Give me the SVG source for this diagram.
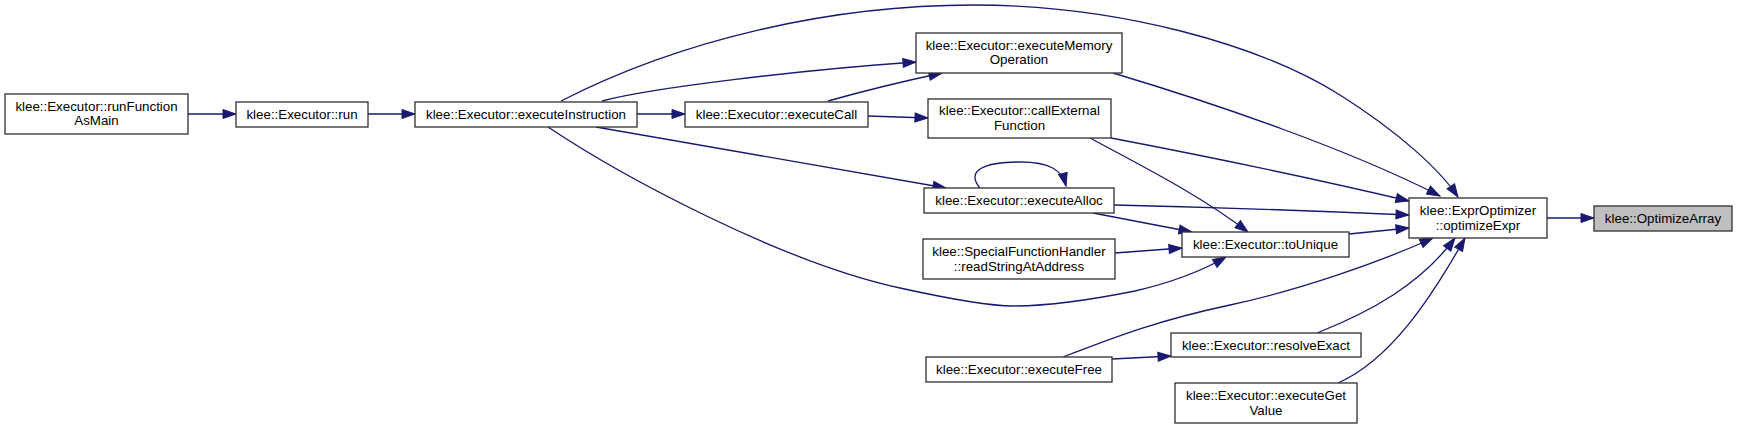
<svg xmlns="http://www.w3.org/2000/svg" width="1737" height="430" viewBox="0 0 1737 430">
<style>
.n rect{fill:#fff;stroke:#333;stroke-width:1.33}
.n.g rect{fill:#bfbfbf}
.n text{font-family:"Liberation Sans",Arial,sans-serif;font-size:13.33px;fill:#000;text-anchor:middle}
.e path{fill:none;stroke:#191970;stroke-width:1.33;marker-end:url(#ah)}
</style>
<defs>
<marker id="ah" markerWidth="14" markerHeight="10" refX="13" refY="5" orient="auto" markerUnits="userSpaceOnUse" overflow="visible">
<path d="M0,0.5 L13,5 L0,9.5 z" fill="#191970" stroke="#191970" stroke-width="1"/>
</marker>
</defs>
<rect width="1737" height="430" fill="#fff"/>
<g id="edges" class="e">
<path d="M188,114 L236,114"/>
<path d="M368,114 L415,114"/>
<path d="M637,114 L685,114"/>
<path d="M602,101 C650,88 800,70 916,62"/>
<path d="M828,101 C860,92 900,82 942,73"/>
<path d="M868,116 L928,118"/>
<path d="M561,101 C680,40 830,5 973,5 C1120,5 1260,45 1340,95 C1400,133 1440,170 1458,197"/>
<path d="M1113,73 C1220,105 1350,150 1440,196"/>
<path d="M1111,138 C1200,155 1320,180 1409,201"/>
<path d="M1114,205 C1200,207 1320,211 1409,215"/>
<path d="M1349,234 L1409,228"/>
<path d="M596,127 L946,188"/>
<path d="M980,188 C965,170 985,162 1020,162 C1050,162 1062,170 1066,186"/>
<path d="M548,127 C620,175 780,262 900,288 C950,299 990,306 1013,306 C1060,306 1110,296 1135,291 C1165,284 1200,272 1226,257"/>
<path d="M1090,138 C1140,165 1200,195 1248,232"/>
<path d="M1093,213 L1192,232"/>
<path d="M1115,253 L1182,248"/>
<path d="M1112,359 L1171,356"/>
<path d="M1063,357 C1120,335 1160,320 1230,305 C1300,290 1380,262 1433,238"/>
<path d="M1317,333 C1370,312 1420,285 1455,238"/>
<path d="M1338,383 C1390,360 1430,300 1465,238"/>
<path d="M1547,218 L1594,218"/>
</g>
<g id="runFunctionAsMain" class="n"><rect x="5" y="94" width="183" height="40"/><text x="96.5" y="111">klee::Executor::runFunction</text><text x="96.5" y="125">AsMain</text></g>
<g id="run" class="n"><rect x="236" y="102" width="132" height="25"/><text x="302" y="119">klee::Executor::run</text></g>
<g id="executeInstruction" class="n"><rect x="415" y="102" width="222" height="25"/><text x="526" y="119">klee::Executor::executeInstruction</text></g>
<g id="executeCall" class="n"><rect x="685" y="102" width="183" height="25"/><text x="776.5" y="119">klee::Executor::executeCall</text></g>
<g id="executeMemoryOperation" class="n"><rect x="916" y="33" width="206" height="40"/><text x="1019" y="49.5">klee::Executor::executeMemory</text><text x="1019" y="64">Operation</text></g>
<g id="callExternalFunction" class="n"><rect x="928" y="99" width="183" height="39"/><text x="1019.5" y="115">klee::Executor::callExternal</text><text x="1019.5" y="129.5">Function</text></g>
<g id="executeAlloc" class="n"><rect x="924" y="188" width="190" height="25"/><text x="1019" y="205">klee::Executor::executeAlloc</text></g>
<g id="readStringAtAddress" class="n"><rect x="923" y="239" width="192" height="40"/><text x="1019" y="256">klee::SpecialFunctionHandler</text><text x="1019" y="270.5">::readStringAtAddress</text></g>
<g id="toUnique" class="n"><rect x="1182" y="232" width="167" height="25"/><text x="1265.5" y="249">klee::Executor::toUnique</text></g>
<g id="executeFree" class="n"><rect x="926" y="357" width="186" height="25"/><text x="1019" y="374">klee::Executor::executeFree</text></g>
<g id="resolveExact" class="n"><rect x="1171" y="333" width="190" height="24"/><text x="1266" y="350">klee::Executor::resolveExact</text></g>
<g id="executeGetValue" class="n"><rect x="1175" y="383" width="182" height="40"/><text x="1266" y="400">klee::Executor::executeGet</text><text x="1266" y="415">Value</text></g>
<g id="optimizeExpr" class="n"><rect x="1409" y="198" width="138" height="40"/><text x="1478" y="215">klee::ExprOptimizer</text><text x="1478" y="229.5">::optimizeExpr</text></g>
<g id="OptimizeArray" class="n g"><rect x="1594" y="206" width="138" height="25"/><text x="1663" y="223">klee::OptimizeArray</text></g>
</svg>
